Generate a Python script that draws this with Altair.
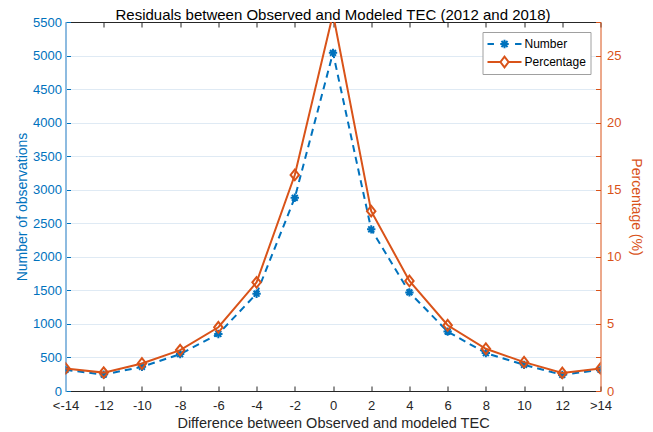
import altair as alt
import pandas as pd

categories = ["<-14", "-12", "-10", "-8", "-6", "-4", "-2", "0", "2", "4", "6", "8", "10", "12", ">14"]
numbers = [315, 245, 360, 550, 850, 1450, 2880, 5040, 2410, 1470, 885, 565, 390, 240, 318]
percentages = [1.68, 1.37, 2.05, 3.05, 4.75, 8.1, 16.1, 28.1, 13.4, 8.2, 4.9, 3.15, 2.15, 1.35, 1.68]
series = ["Number", "Percentage"]

BLUE = "#0072BD"
ORANGE = "#D95319"
DARK = "#262626"
FONT = "Liberation Sans"

df = pd.DataFrame({"cat": categories, "num": numbers, "pct": percentages})
leg_df = pd.DataFrame({"series": series})

ASTERISK = "M-1,0L1,0M0,-1L0,1M-0.7,-0.7L0.7,0.7M-0.7,0.7L0.7,-0.7"
DIAMOND = "M0,-1L0.8,0L0,1L-0.8,0Z"
LEG_NUM = ("M-1,0H-0.62M0.62,0H1M-0.25,0H0.25M0,-0.25V0.25"
           "M-0.18,-0.18L0.18,0.18M-0.18,0.18L0.18,-0.18")
LEG_PCT = "M-1,0H-0.24M0.24,0H1M-0.24,0L0,-0.32L0.24,0L0,0.32Z"

inward = {"expr": "-5"}

x_scale = alt.Scale(type="point", domain=categories, padding=0)

xA = alt.X("cat:N", sort=categories, scale=x_scale,
           axis=alt.Axis(orient="bottom", title="Difference between Observed and modeled TEC",
                         labelAngle=0, labelColor=DARK, titleColor=DARK, domainColor=DARK,
                         tickColor=DARK, tickSize=inward, labelPadding=13, labelFontSize=13,
                         titleFontSize=14.5, titleFontWeight="normal", titlePadding=4, grid=False))
xB = alt.X("cat:N", sort=categories, scale=x_scale,
           axis=alt.Axis(orient="top", title=None, labels=False, domainColor=DARK,
                         tickColor=DARK, tickSize=inward, grid=False))

yA = alt.Y("num:Q", scale=alt.Scale(domain=[0, 5500], nice=False),
           axis=alt.Axis(orient="left", title="Number of observations", format="d",
                         values=list(range(0, 5501, 500)), labelColor=BLUE, titleColor=BLUE,
                         domainColor="#8DBBE0", domainWidth=2, tickColor=BLUE, tickSize=inward,
                         labelPadding=9, labelFontSize=13, titleFontSize=14,
                         titleFontWeight="normal", titlePadding=3, grid=True,
                         gridColor="#DFEAF4", gridWidth=1))
yB = alt.Y("pct:Q", scale=alt.Scale(domain=[0, 27.5], nice=False),
           axis=alt.Axis(orient="right", title="Percentage (%)",
                         values=[i * 2.5 for i in range(12)],
                         labelExpr="datum.value % 5 == 0 ? datum.label : ''",
                         labelColor=ORANGE, titleColor=ORANGE, domainColor=ORANGE,
                         tickColor=ORANGE, tickSize=inward, labelPadding=11,
                         labelFontSize=13, titleFontSize=14, titleFontWeight="normal",
                         titlePadding=8, grid=False))

base = alt.Chart(df)

num_line = base.mark_line(color=BLUE, strokeWidth=2, strokeDash=[7, 5], clip=True).encode(x=xA, y=yA)
num_pts = base.mark_point(shape=ASTERISK, size=70, color=BLUE, strokeWidth=2, filled=False,
                          opacity=1, clip=True).encode(x=xA, y=yA)
layerA = alt.layer(num_line, num_pts)

pct_line = base.mark_line(color=ORANGE, strokeWidth=2, clip=True).encode(x=xB, y=yB)
pct_pts = base.mark_point(shape=DIAMOND, size=112, color=ORANGE, strokeWidth=2, filled=False,
                          opacity=1, clip=True).encode(x=xB, y=yB)
layerB = alt.layer(pct_line, pct_pts)

legend_layer = alt.Chart(leg_df).mark_point(filled=False, opacity=0, strokeWidth=2).encode(
    color=alt.Color("series:N", scale=alt.Scale(domain=series, range=[BLUE, ORANGE]),
                    legend=alt.Legend(title=None, orient="top-right", offset=10,
                                      symbolSize=1156, symbolStrokeWidth=2, symbolOpacity=1,
                                      clipHeight=16, labelFontSize=12, labelColor="#000",
                                      labelFont=FONT, padding=4, labelOffset=2,
                                      fillColor="white", strokeColor="#A0A0A0")),
    shape=alt.Shape("series:N", scale=alt.Scale(domain=series, range=[LEG_NUM, LEG_PCT]),
                    legend=None),
)

chart = alt.layer(layerA, layerB, legend_layer).resolve_scale(
    x="independent", y="independent"
).properties(
    width=535,
    height=369,
    autosize=alt.AutoSizeParams(type="none"),
    padding={"left": 57.5, "top": 14, "right": 44.5, "bottom": 40},
    title=alt.TitleParams("Residuals between Observed and Modeled TEC (2012 and 2018)",
                          fontSize=15, fontWeight="normal", color="#000", anchor="middle",
                          offset=-7, font=FONT),
).configure(
    font=FONT
).configure_view(
    stroke=None
)

chart.save("out.html", embed_options={"renderer": "svg", "actions": False})
